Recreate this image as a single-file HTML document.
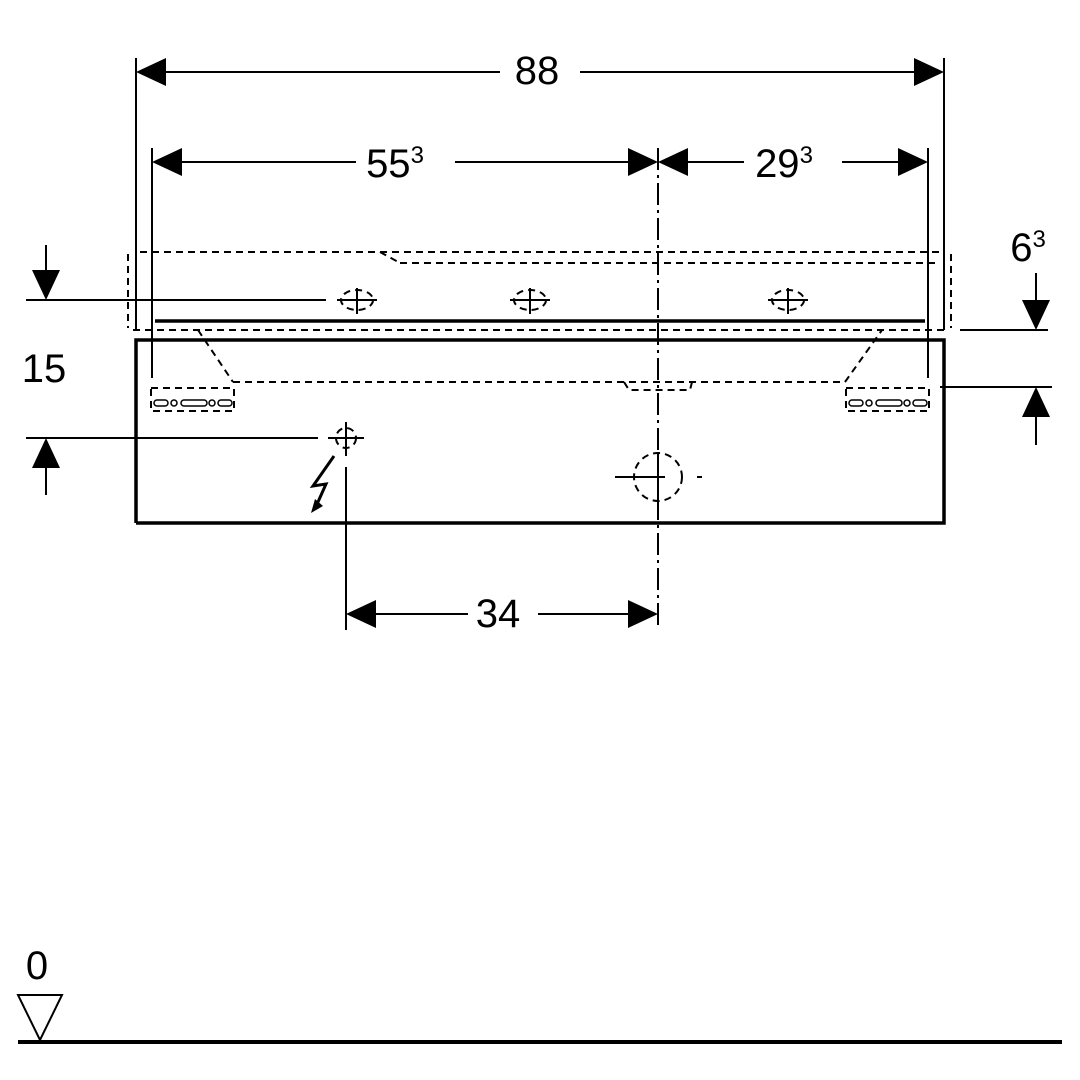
<!DOCTYPE html>
<html><head><style>body{margin:0;background:#fff}svg{display:block}text{font-family:"Liberation Sans",sans-serif;fill:#000}</style></head><body>
<svg width="1080" height="1080" viewBox="0 0 1080 1080" xmlns="http://www.w3.org/2000/svg">
<g stroke="#000" fill="none" stroke-width="2">
<!-- extension lines -->
<line x1="136" y1="58" x2="136" y2="330"/>
<line x1="944" y1="58" x2="944" y2="330"/>
<line x1="152" y1="148" x2="152" y2="378"/>
<line x1="928" y1="148" x2="928" y2="378"/>
<line x1="658" y1="148" x2="658" y2="630" stroke-dasharray="22,5,3,5"/>
<!-- dim lines -->
<line x1="160" y1="72" x2="500" y2="72"/><line x1="580" y1="72" x2="920" y2="72"/>
<line x1="176" y1="162" x2="356" y2="162"/><line x1="455" y1="162" x2="634" y2="162"/>
<line x1="682" y1="162" x2="744" y2="162"/><line x1="842" y1="162" x2="904" y2="162"/>
<line x1="370" y1="614" x2="468" y2="614"/><line x1="538" y1="614" x2="634" y2="614"/>
<!-- dashed hidden lines -->
<g stroke-dasharray="7,5">
<line x1="140" y1="252" x2="380" y2="252"/><line x1="380" y1="252" x2="400" y2="263"/>
<line x1="380" y1="252" x2="940" y2="252"/>
<line x1="400" y1="263" x2="940" y2="263"/>
<line x1="128" y1="254" x2="128" y2="328"/><line x1="951" y1="254" x2="951" y2="328"/>
<line x1="133" y1="330" x2="946" y2="330"/>
<line x1="198" y1="330" x2="233" y2="382"/><line x1="233" y1="382" x2="845" y2="382"/><line x1="845" y1="382" x2="882" y2="330"/>
<polyline points="624,382 629,390 690,390 692,382"/>
<rect x="151" y="388" width="83" height="23"/><rect x="846" y="388" width="83" height="23"/>
<circle cx="658" cy="477" r="24"/>
<ellipse cx="357" cy="300" rx="16" ry="10"/><ellipse cx="530" cy="300" rx="16" ry="10"/><ellipse cx="788" cy="300" rx="16" ry="10"/>
<circle cx="346" cy="438" r="10"/>
</g>
<g stroke-width="1.5">
<rect x="154" y="400" width="14" height="6" rx="3"/><circle cx="174" cy="403" r="3"/><rect x="181" y="400" width="26" height="6" rx="3"/><circle cx="212" cy="403" r="3"/><rect x="218" y="400" width="14" height="6" rx="3"/>
<rect x="849" y="400" width="14" height="6" rx="3"/><circle cx="869" cy="403" r="3"/><rect x="876" y="400" width="26" height="6" rx="3"/><circle cx="907" cy="403" r="3"/><rect x="913" y="400" width="14" height="6" rx="3"/>
</g>
<!-- crosshairs -->
<line x1="337" y1="300" x2="377" y2="300"/><line x1="357" y1="288" x2="357" y2="314"/>
<line x1="510" y1="300" x2="550" y2="300"/><line x1="530" y1="288" x2="530" y2="314"/>
<line x1="768" y1="300" x2="808" y2="300"/><line x1="788" y1="288" x2="788" y2="314"/>
<line x1="328" y1="438" x2="364" y2="438"/><line x1="346" y1="422" x2="346" y2="456"/>
<line x1="346" y1="467" x2="346" y2="630"/>
<line x1="615" y1="477" x2="665" y2="477"/><line x1="658" y1="452" x2="658" y2="503"/>
<line x1="697" y1="477" x2="702" y2="477"/>
<!-- leaders -->
<line x1="26" y1="300" x2="326" y2="300"/>
<line x1="26" y1="438" x2="318" y2="438"/>
<line x1="46" y1="245" x2="46" y2="272"/><line x1="46" y1="466" x2="46" y2="495"/>
<line x1="960" y1="330" x2="1048" y2="330"/><line x1="940" y1="387" x2="1052" y2="387"/>
<line x1="1036" y1="273" x2="1036" y2="302"/><line x1="1036" y1="416" x2="1036" y2="445"/>
<!-- heavy -->
<line x1="155" y1="321" x2="925" y2="321" stroke-width="3.5"/>
<polyline points="136,523 136,340 944,340 944,523 136,523" stroke-width="3.5"/>
<line x1="18" y1="1042" x2="1062" y2="1042" stroke-width="4"/>
<polygon points="18,995 62,995 40,1040" stroke-width="2"/>
<polyline points="334,456 313,486 326,484 318,502" stroke-width="3"/>
</g>
<g fill="#000">
<polygon points="136,72 166,58 166,86"/><polygon points="944,72 914,58 914,86"/>
<polygon points="152,162 182,148 182,176"/><polygon points="658,162 628,148 628,176"/>
<polygon points="658,162 688,148 688,176"/><polygon points="928,162 898,148 898,176"/>
<polygon points="346,614 376,600 376,628"/><polygon points="658,614 628,600 628,628"/>
<polygon points="46,300 32,270 60,270"/><polygon points="46,438 32,468 60,468"/>
<polygon points="1036,330 1022,300 1050,300"/><polygon points="1036,387 1022,417 1050,417"/>
<polygon points="311,513 315,499 323,506"/>
</g>
<g font-size="40" text-anchor="middle">
<text x="537" y="84">88</text>
<text x="395" y="177">55<tspan font-size="24" dy="-14">3</tspan></text>
<text x="784" y="177">29<tspan font-size="24" dy="-14">3</tspan></text>
<text x="498" y="627">34</text>
<text x="44" y="382">15</text>
<text x="1028" y="261">6<tspan font-size="24" dy="-14">3</tspan></text>
<text x="37" y="979">0</text>
</g>
</svg>
</body></html>
